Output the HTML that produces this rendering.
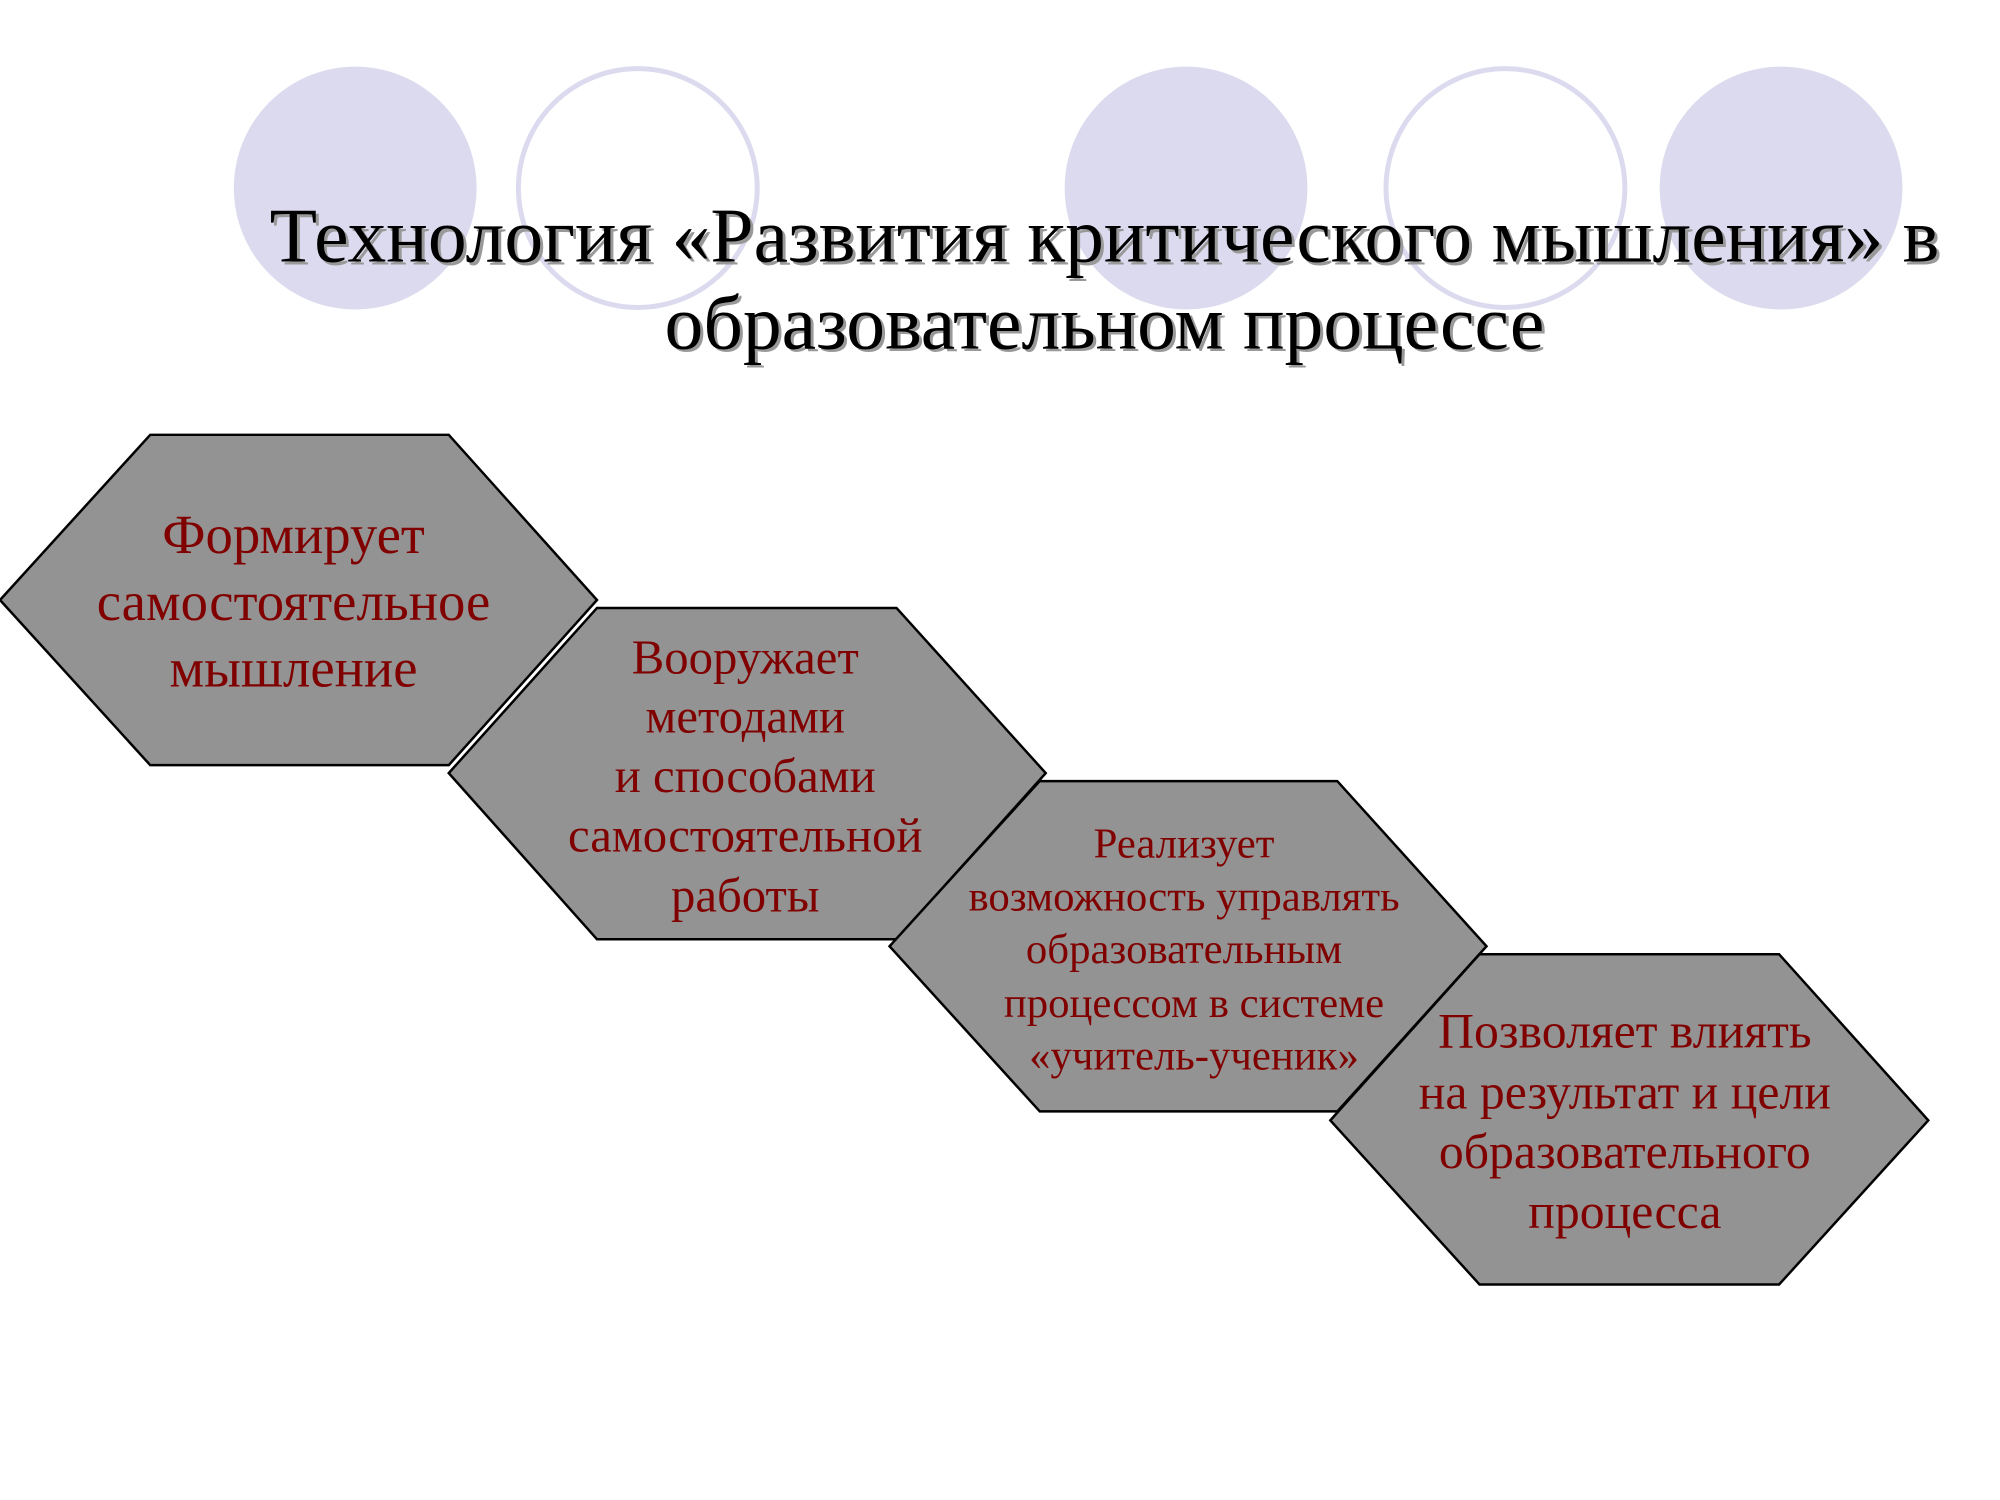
<!DOCTYPE html>
<html><head><meta charset="utf-8"><style>
html,body{margin:0;padding:0;background:#fff}
svg{display:block}
text{font-family:"Liberation Serif",serif}
</style></head><body>
<svg width="2000" height="1500" viewBox="0 0 2000 1500" xmlns="http://www.w3.org/2000/svg">
<g transform="scale(0.995)">
<g>
<circle cx="357" cy="189" r="122" fill="#dcdaee"/>
<circle cx="641" cy="189" r="120" fill="none" stroke="#dcdaee" stroke-width="5"/>
<circle cx="1192" cy="189" r="122" fill="#dcdaee"/>
<circle cx="1513" cy="189" r="120" fill="none" stroke="#dcdaee" stroke-width="5"/>
<circle cx="1790" cy="189" r="122" fill="#dcdaee"/>
</g>
<g font-size="78" text-anchor="middle">
<text x="1113" y="266" fill="#999">Технология «Развития критического мышления» в</text>
<text x="1113" y="353" fill="#999">образовательном процессе</text>
<text x="1110" y="263" fill="#000">Технология «Развития критического мышления» в</text>
<text x="1110" y="350" fill="#000">образовательном процессе</text>
</g>
<g fill="#939393" stroke="#000" stroke-width="2.5">
<polygon points="0,603 151,437 451,437 600,603 451,769 151,769"/>
<polygon points="451,777 600,611 901,611 1051,777 901,944 600,944"/>
<polygon points="894,951 1045,785 1344,785 1494,951 1344,1117 1045,1117"/>
<polygon points="1337,1126 1487,959 1788,959 1938,1126 1788,1291 1487,1291"/>
</g>
<g fill="#800000" text-anchor="middle">
<g font-size="55">
<text x="295" y="556">Формирует</text>
<text x="295" y="623">самостоятельное</text>
<text x="295" y="690">мышление</text>
</g>
<g font-size="49">
<text x="749" y="677">Вооружает</text>
<text x="749" y="736">методами</text>
<text x="749" y="796">и способами</text>
<text x="749" y="856">самостоятельной</text>
<text x="749" y="916">работы</text>
</g>
<g font-size="43">
<text x="1190" y="862">Реализует</text>
<text x="1190" y="915">возможность управлять</text>
<text x="1190" y="968">образовательным</text>
<text x="1200" y="1022">процессом в системе</text>
<text x="1200" y="1075">«учитель-ученик»</text>
</g>
<g font-size="50">
<text x="1633" y="1053">Позволяет влиять</text>
<text x="1633" y="1114">на результат и цели</text>
<text x="1633" y="1174">образовательного</text>
<text x="1633" y="1234">процесса</text>
</g>
</g>
</g>
</svg>
</body></html>
